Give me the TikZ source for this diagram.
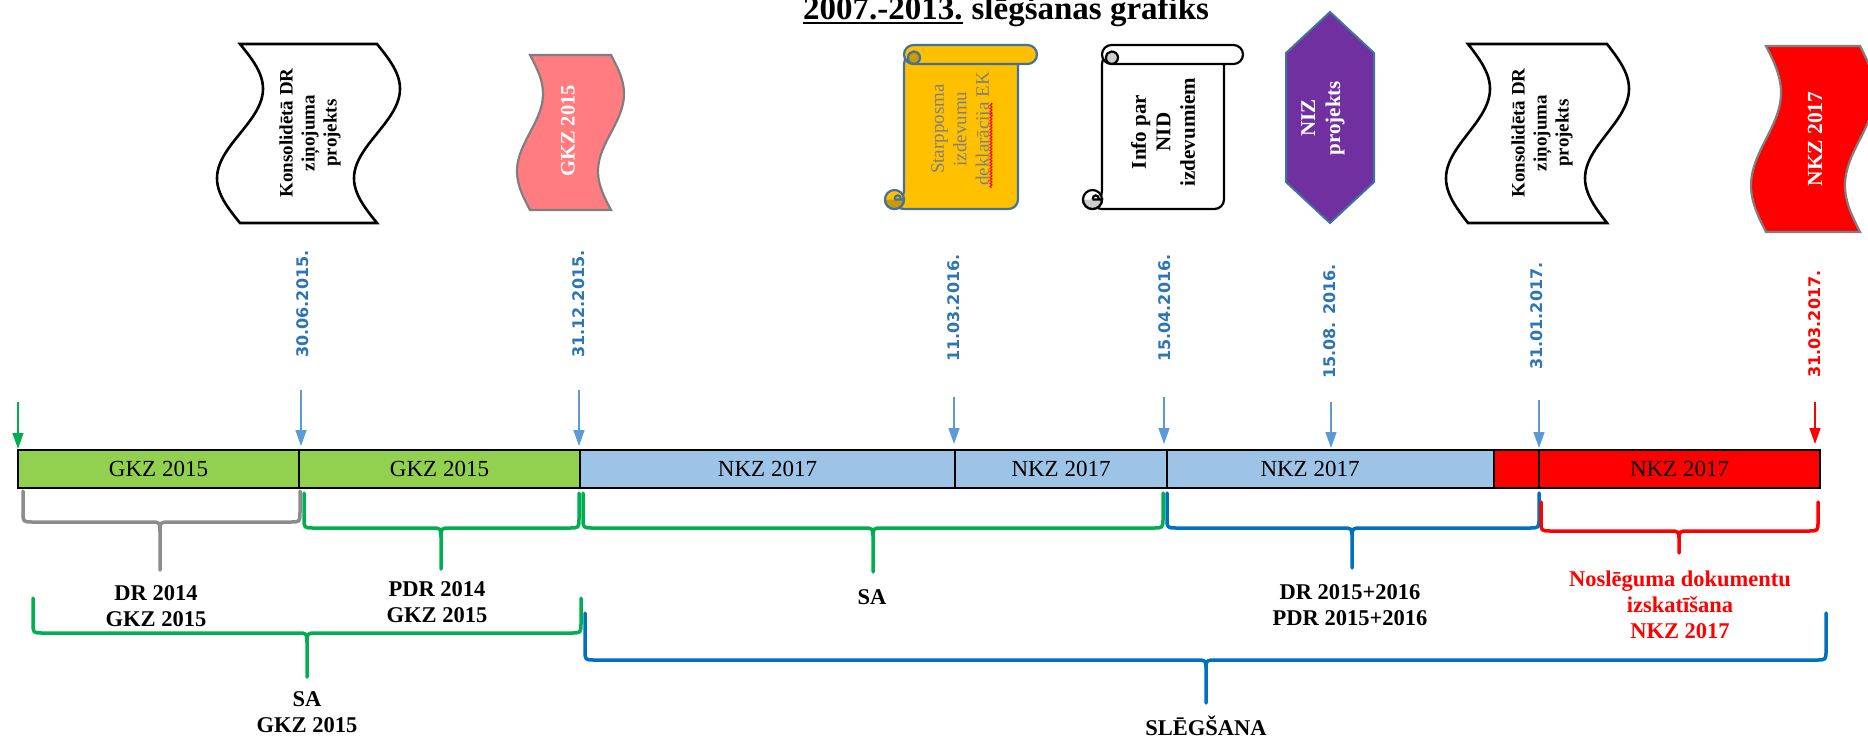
\documentclass[tikz,border=0pt]{standalone}
\usepackage{fontspec}
\setmainfont{Liberation Serif}
\newfontfamily\datefont{DejaVu Sans}
\usetikzlibrary{arrows.meta,decorations.pathmorphing}
\definecolor{bargreen}{HTML}{92D050}
\definecolor{barblue}{HTML}{9DC3E6}
\definecolor{arrblue}{HTML}{5B9BD5}
\definecolor{datblue}{HTML}{2E75B6}
\definecolor{brgreen}{HTML}{00B050}
\definecolor{brblue}{HTML}{0070C0}
\definecolor{brgrey}{HTML}{8C8C8C}
\definecolor{salmon}{HTML}{FF7C80}
\definecolor{gold}{HTML}{FFC000}
\definecolor{golddark}{HTML}{CC9A06}
\definecolor{slateb}{HTML}{41719C}
\definecolor{purp}{HTML}{7030A0}
\definecolor{txtgrey}{HTML}{808080}
\definecolor{rollgrey}{HTML}{CDCDCD}
\definecolor{shgrey}{HTML}{7F7F7F}

% wave document: style, xl, xr, top, bottom, amplitude
\newcommand\wavedoc[6]{%
  \draw[#1] (#2,#4) -- (#3,#4)
    -- plot[domain=0:1,samples=49,variable=\t] ({#3+#6*sin(360*\t)},{#4+(#5-#4)*\t})
    -- plot[domain=1:0,samples=49,variable=\t] ({#2+#6*sin(360*\t)},{#4+(#5-#4)*\t})
    -- cycle;}

% vertical scroll: fill, border, dark, L, T, R, B
\newcommand\vscroll[7]{%
  \begin{scope}[draw=#2, line width=2.2pt]
    \filldraw[fill=#1, rounded corners=9.5pt] (#4+19,#7-9.5) -- (#4+19,#5+9.5) -- (#6-19,#5+9.5) -- (#6-19,#7) -- (#4+9.5,#7) -- cycle;
    \filldraw[fill=#1, rounded corners=9.5pt] (#4+19,#5) rectangle (#6,#5+19);
    \filldraw[fill=#3] (#4+23,#5+13) .. controls (#4+23,#5+17) and (#4+26,#5+19) .. (#4+28.5,#5+19)
       .. controls (#4+32,#5+19) and (#4+35,#5+16) .. (#4+35,#5+12.5)
       .. controls (#4+35,#5+9) and (#4+32,#5+6.5) .. (#4+28.5,#5+6.5)
       .. controls (#4+25.5,#5+6.5) and (#4+23,#5+9) .. (#4+23,#5+13) -- cycle;
    \filldraw[fill=#1] (#4+9.5,#7-9.5) circle[radius=9.5pt];
    \filldraw[fill=#3] (#4,#7-9.5) .. controls (#4,#7-4.25) and (#4+4.25,#7) .. (#4+9.5,#7)
       .. controls (#4+14.75,#7) and (#4+19,#7-4.25) .. (#4+19,#7-9.5) -- (#4+9.5,#7-9.5);
    \draw (#4+9.5,#7-9.5) .. controls (#4+9.5,#7-15) and (#4+16,#7-15) .. (#4+16,#7-9.5);
  \end{scope}}

% curly brace: colour, x1, x2, xm, ytop, yline, ytip
\newcommand\curly[7]{%
  \draw[#1, line width=3.5pt, line cap=round, line join=round]
    (#2,#5) -- (#2,#6-10) .. controls (#2,#6) .. (#2+10,#6) -- (#4-10,#6)
    .. controls (#4,#6) .. (#4,#6+10) -- (#4,#7)
    (#4,#6+10) .. controls (#4,#6) .. (#4+10,#6) -- (#3-10,#6)
    .. controls (#3,#6) .. (#3,#6-10) -- (#3,#5);}

\begin{document}
\begin{tikzpicture}[x=1pt,y=-1pt,
  seg/.style={draw=black, line width=1.2pt, minimum height=38pt, inner sep=0,
    font=\fontsize{23}{23}\selectfont},
  doctext/.style={rotate=90, align=center, inner sep=0,
    font=\fontsize{19}{22}\selectfont\bfseries},
  datelab/.style={rotate=90, anchor=west, inner sep=0, text=datblue,
    font=\datefont\fontsize{16}{16}\selectfont\bfseries},
  lab/.style={align=center, inner sep=0, font=\fontsize{22.5}{26}\selectfont\bfseries},
  tick/.style={line width=1.5pt, -{Triangle[width=11pt,length=16pt]}}
]
\clip (0,0) rectangle (1868,737);
\fill[white] (0,0) rectangle (1868,737);

% title
\node[anchor=base west, inner sep=0, font=\fontsize{33}{36}\selectfont\bfseries] (t1) at (803,19) {2007.-2013.};
\node[anchor=base west, inner sep=0, xshift=8.5pt, font=\fontsize{33}{36}\selectfont\bfseries] (t2) at (t1.base east) {slēgšanas grafiks};
\draw[line width=2.5pt] ([yshift=-4pt]t1.base west) -- ([yshift=-4pt]t1.base east);

% documents
\wavedoc{fill=white, draw=black, line width=2.6pt}{240}{377}{44}{223}{23}
\node[doctext] (tA) at (310,133) {Konsolidētā DR\\ziņojuma\\projekts};

\wavedoc{fill=salmon, draw=shgrey, line width=2.2pt}{530}{611}{55}{210}{13}
\node[doctext, text=white, font=\fontsize{20.5}{22}\selectfont\bfseries] (tB) at (568,131) {GKZ 2015};

\vscroll{gold}{slateb}{golddark}{885}{45}{1037}{209}
\node[rotate=90, align=center, inner sep=0, text=txtgrey, font=\fontsize{19}{22.5}\selectfont] (tC) at (962,129) {Starpposma\\izdevumu\\deklarācija EK};
\draw[red, line width=1pt, decorate, decoration={snake, amplitude=1pt, segment length=3pt}] (991,103) -- (991,188);

\vscroll{white}{black}{rollgrey}{1083}{45}{1243}{209}
\node[doctext, font=\fontsize{21}{24.5}\selectfont\bfseries] (tD) at (1163,132) {Info par\\NID\\izdevumiem};

\filldraw[fill=purp, draw=slateb, line width=2pt] (1330,12) -- (1374,53) -- (1374,182) -- (1330,223) -- (1286,182) -- (1286,53) -- cycle;
\node[doctext, text=white, font=\fontsize{21}{25}\selectfont\bfseries] (tE) at (1323,118) {NIZ\\projekts};

\wavedoc{fill=white, draw=black, line width=2.6pt}{1468}{1607}{44}{223}{22}
\node[doctext] (tF) at (1542,133) {Konsolidētā DR\\ziņojuma\\projekts};

\wavedoc{fill=red, draw=shgrey, line width=2.2pt}{1766}{1860}{46}{232}{15}
\node[doctext, text=white, font=\fontsize{21.5}{22}\selectfont\bfseries] (tG) at (1815,139) {NKZ 2017};

% dates
\node[datelab] (d1) at (303,358) {30.06.2015.};
\node[datelab] (d2) at (579,358) {31.12.2015.};
\node[datelab] (d3) at (954,362) {11.03.2016.};
\node[datelab] (d4) at (1165,362) {15.04.2016.};
\node[datelab] (d5) at (1330,379) {15.08. 2016.};
\node[datelab] (d6) at (1537,370) {31.01.2017.};
\node[datelab, text=red] (d7) at (1815,378) {31.03.2017.};

% timeline bar
\node[seg, fill=bargreen, minimum width=281pt] (s1) at (158.5,469) {GKZ 2015};
\node[seg, fill=bargreen, minimum width=281pt] (s2) at (439.5,469) {GKZ 2015};
\node[seg, fill=barblue, minimum width=375pt] (s3) at (767.5,469) {NKZ 2017};
\node[seg, fill=barblue, minimum width=212pt] (s4) at (1061,469) {NKZ 2017};
\node[seg, fill=barblue, minimum width=327pt] (s5) at (1330.5,469) {};
\node[inner sep=0, font=\fontsize{23}{23}\selectfont] (s5t) at (1310,469) {NKZ 2017};
\node[seg, fill=red, minimum width=45pt] (s6) at (1516.5,469) {};
\node[seg, fill=red, minimum width=281pt] (s7) at (1679.5,469) {NKZ 2017};

% arrows
\coordinate (a0s) at (18,402);   \coordinate (a0e) at (18,449);
\coordinate (a1s) at (301,390);  \coordinate (a1e) at (301,446);
\coordinate (a2s) at (579,390);  \coordinate (a2e) at (579,446);
\coordinate (a3s) at (954,397);  \coordinate (a3e) at (954,444);
\coordinate (a4s) at (1164,397); \coordinate (a4e) at (1164,444);
\coordinate (a5s) at (1331,402); \coordinate (a5e) at (1331,448);
\coordinate (a6s) at (1539,400); \coordinate (a6e) at (1539,448);
\coordinate (a7s) at (1815,402); \coordinate (a7e) at (1815,444);
\draw[tick, brgreen] (a0s) -- (a0e);
\draw[tick, arrblue] (a1s) -- (a1e);
\draw[tick, arrblue] (a2s) -- (a2e);
\draw[tick, arrblue] (a3s) -- (a3e);
\draw[tick, arrblue] (a4s) -- (a4e);
\draw[tick, arrblue] (a5s) -- (a5e);
\draw[tick, arrblue] (a6s) -- (a6e);
\draw[tick, red] (a7s) -- (a7e);

% braces
\curly{brgrey}{23}{300}{160}{491}{522}{570}
\curly{brgreen}{304}{579}{441}{493}{528}{569}
\curly{brgreen}{583}{1163}{873}{493}{528}{572}
\curly{brblue}{1167}{1539}{1352}{493}{528}{568}
\curly{red}{1541}{1818}{1679}{502}{531}{553}
\curly{brgreen}{33}{581}{307}{598}{633}{677}
\curly{brblue}{585}{1826}{1206}{613}{660}{703}

% labels
\node[lab] (l1) at (156,606) {DR 2014\\GKZ 2015};
\node[lab] (l2) at (437,602) {PDR 2014\\GKZ 2015};
\node[lab] (l3) at (872,597) {SA};
\node[lab] (l4) at (1350,605) {DR 2015+2016\\PDR 2015+2016};
\node[lab, text=red] (l5) at (1680,605) {Noslēguma dokumentu\\izskatīšana\\NKZ 2017};
\node[lab] (l6) at (307,712) {SA\\GKZ 2015};
\node[lab] (l7) at (1206,726) {SLĒGŠANA};
\end{tikzpicture}
\end{document}
